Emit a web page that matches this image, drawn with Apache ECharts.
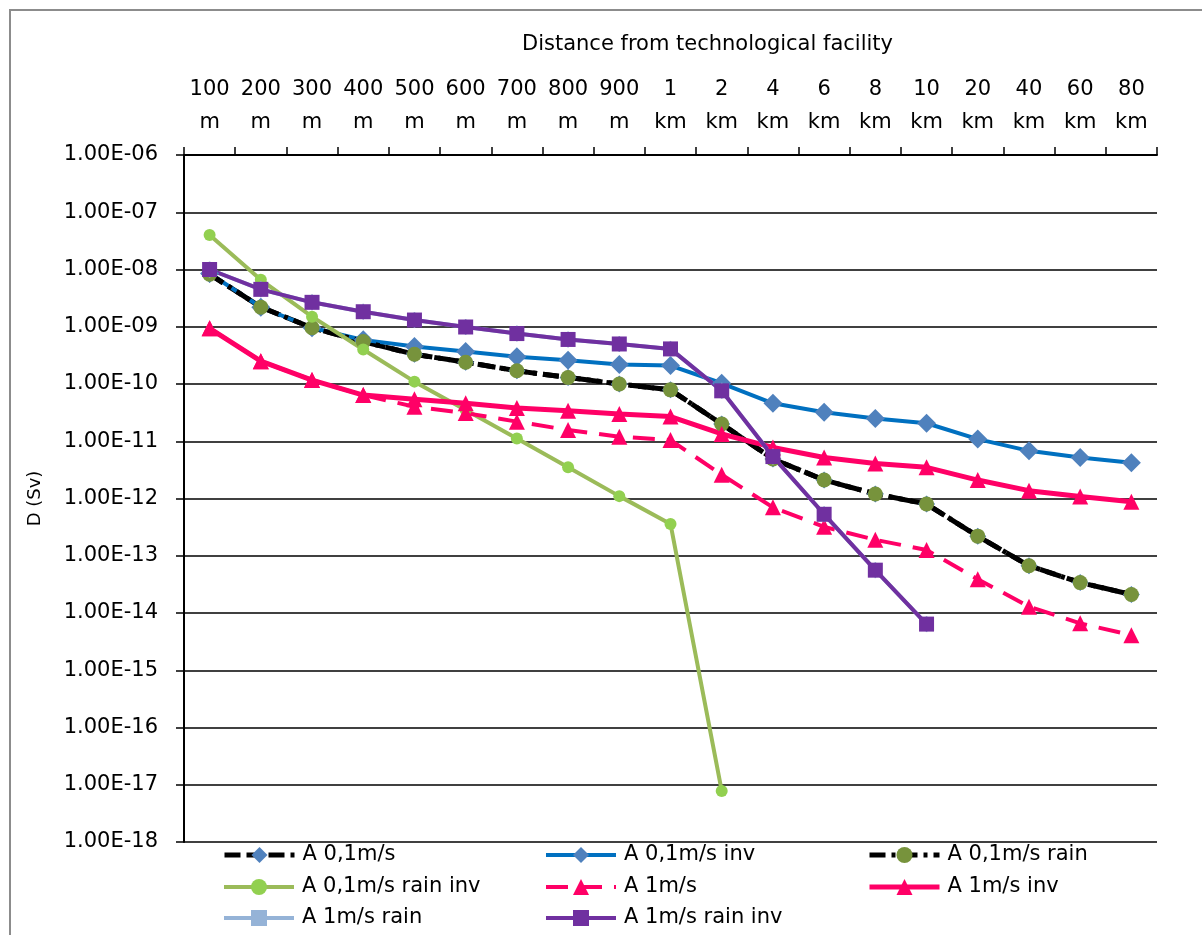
<!DOCTYPE html>
<html>
<head>
<meta charset="utf-8">
<script src="https://cdn.jsdelivr.net/npm/echarts@6/dist/echarts.min.js"></script>
<style>
  html, body { margin: 0; padding: 0; background: #ffffff; }
  #chart { width: 1202px; height: 935px; }
</style>
</head>
<body>
<div id="chart"></div>
<script>
// Distance categories (top axis), two-line labels
const categories = ['100\nm', '200\nm', '300\nm', '400\nm', '500\nm', '600\nm', '700\nm', '800\nm', '900\nm',
  '1\nkm', '2\nkm', '4\nkm', '6\nkm', '8\nkm', '10\nkm', '20\nkm', '40\nkm', '60\nkm', '80\nkm'];

// Dose D (Sv) per distance for each scenario
const a01 = [8.3e-9, 2.2e-9, 9.6e-10, 5.5e-10, 3.3e-10, 2.4e-10, 1.7e-10, 1.3e-10, 1.0e-10, 7.9e-11,
  2.0e-11, 4.9e-12, 2.1e-12, 1.2e-12, 8.0e-13, 2.2e-13, 6.7e-14, 3.4e-14, 2.1e-14];
const a01Inv = [8.5e-9, 2.2e-9, 9.6e-10, 5.9e-10, 4.5e-10, 3.7e-10, 3.0e-10, 2.6e-10, 2.2e-10, 2.1e-10,
  1.03e-10, 4.6e-11, 3.2e-11, 2.5e-11, 2.06e-11, 1.09e-11, 6.8e-12, 5.2e-12, 4.2e-12];
const a01Rain = [8.3e-9, 2.2e-9, 9.6e-10, 5.5e-10, 3.3e-10, 2.4e-10, 1.7e-10, 1.3e-10, 1.0e-10, 7.9e-11,
  2.0e-11, 4.9e-12, 2.1e-12, 1.2e-12, 8.0e-13, 2.2e-13, 6.7e-14, 3.4e-14, 2.1e-14];
const a01RainInv = [4.0e-8, 6.6e-9, 1.5e-9, 4.0e-10, 1.1e-10, 3.5e-11, 1.12e-11, 3.5e-12, 1.1e-12, 3.6e-13,
  7.8e-18, null, null, null, null, null, null, null, null];
const a1 = [9.4e-10, 2.5e-10, 1.17e-10, 6.4e-11, 4.0e-11, 3.1e-11, 2.2e-11, 1.57e-11, 1.2e-11, 1.05e-11,
  2.6e-12, 7.0e-13, 3.2e-13, 1.9e-13, 1.26e-13, 3.9e-14, 1.29e-14, 6.6e-15, 4.1e-15];
const a1Inv = [9.4e-10, 2.5e-10, 1.17e-10, 6.4e-11, 5.4e-11, 4.6e-11, 3.8e-11, 3.4e-11, 3.0e-11, 2.7e-11,
  1.34e-11, 7.8e-12, 5.2e-12, 4.1e-12, 3.5e-12, 2.1e-12, 1.37e-12, 1.08e-12, 8.8e-13];
const a1Rain = [1.0e-8, 4.5e-9, 2.67e-9, 1.83e-9, 1.31e-9, 9.9e-10, 7.6e-10, 6.0e-10, 5.0e-10, 4.1e-10,
  7.6e-11, 5.4e-12, 5.3e-13, 5.6e-14, 6.4e-15, null, null, null, null];
const a1RainInv = [1.0e-8, 4.5e-9, 2.67e-9, 1.83e-9, 1.31e-9, 9.9e-10, 7.6e-10, 6.0e-10, 5.0e-10, 4.1e-10,
  7.6e-11, 5.4e-12, 5.3e-13, 5.6e-14, 6.4e-15, null, null, null, null];

const seriesNames = ['A 0,1m/s', 'A 0,1m/s inv', 'A 0,1m/s rain', 'A 0,1m/s rain inv',
  'A 1m/s', 'A 1m/s inv', 'A 1m/s rain', 'A 1m/s rain inv'];

// Decade range of the dose axis (exponents of 10)
const yMinExp = -18;
const yMaxExp = -6;

const FONT = '"DejaVu Sans", "Open Sans", sans-serif';

// Format a log-axis value as 1.00E-06
function sci(v) {
  const e = Math.round(Math.log10(v));
  const m = v / Math.pow(10, e);
  const sign = e < 0 ? '-' : '+';
  const abs = Math.abs(e);
  return m.toFixed(2) + 'E' + sign + (abs < 10 ? '0' + abs : '' + abs);
}

function lineSeries(name, data, opts) {
  return Object.assign({
    name: name,
    type: 'line',
    data: data,
    connectNulls: false,
    showAllSymbol: true,
    animation: false
  }, opts);
}

const series = [
  lineSeries(seriesNames[0], a01, {
    symbol: 'diamond', symbolSize: 17,
    itemStyle: { color: '#4f81bd' },
    lineStyle: { color: '#000000', width: 5, type: [16, 6] }
  }),
  lineSeries(seriesNames[1], a01Inv, {
    symbol: 'diamond', symbolSize: 19,
    itemStyle: { color: '#4f81bd' },
    lineStyle: { color: '#0070c0', width: 4 }
  }),
  lineSeries(seriesNames[2], a01Rain, {
    symbol: 'circle', symbolSize: 15,
    itemStyle: { color: '#77933c' },
    lineStyle: { color: '#000000', width: 5, type: [16, 6, 4, 6] }
  }),
  lineSeries(seriesNames[3], a01RainInv, {
    symbol: 'circle', symbolSize: 12,
    itemStyle: { color: '#92d050' },
    lineStyle: { color: '#9bbb59', width: 4 }
  }),
  lineSeries(seriesNames[4], a1, {
    symbol: 'triangle', symbolSize: 16,
    itemStyle: { color: '#ff0066' },
    lineStyle: { color: '#ff0066', width: 4, type: [22, 12] }
  }),
  lineSeries(seriesNames[5], a1Inv, {
    symbol: 'triangle', symbolSize: 16,
    itemStyle: { color: '#ff0066' },
    lineStyle: { color: '#ff0066', width: 5 }
  }),
  lineSeries(seriesNames[6], a1Rain, {
    symbol: 'path://M0,0h1v10h-1z', symbolSize: 16, symbolKeepAspect: true,
    itemStyle: { color: '#95b3d7' },
    lineStyle: { color: '#95b3d7', width: 4 }
  }),
  lineSeries(seriesNames[7], a1RainInv, {
    symbol: 'rect', symbolSize: 15,
    itemStyle: { color: '#7030a0' },
    lineStyle: { color: '#7030a0', width: 4 }
  })
];

// Legend: three columns, three rows, each entry placed in its own slot
const legendCols = [222, 544, 867];
const legendRows = [855, 887, 918];
const legends = seriesNames.map(function (name, i) {
  return {
    data: [name],
    left: legendCols[i % 3],
    top: legendRows[Math.floor(i / 3)] - 11,
    itemWidth: 70,
    itemHeight: 20,
    padding: 0,
    selectedMode: false,
    lineStyle: { width: 'inherit' },
    textStyle: { fontFamily: FONT, fontSize: 21, color: '#000000', lineHeight: 22, padding: [0, 0, 0, 3] }
  };
});

const chart = echarts.init(document.getElementById('chart'), null, { renderer: 'canvas' });
chart.setOption({
  backgroundColor: '#ffffff',
  animation: false,
  title: {
    text: 'Distance from technological facility',
    left: 517,
    top: 27,
    textStyle: { fontFamily: FONT, fontSize: 21, fontWeight: 'normal', color: '#000000', lineHeight: 26 }
  },
  graphic: [{
    type: 'rect',
    shape: { x: 10, y: 10, width: 1220, height: 950 },
    style: { fill: 'none', stroke: '#8c8c8c', lineWidth: 2 },
    silent: true
  }],
  legend: legends,
  grid: { left: 184, right: 45, top: 155, bottom: 93 },
  xAxis: {
    type: 'category',
    position: 'top',
    data: categories,
    boundaryGap: true,
    axisLine: { lineStyle: { color: '#000000', width: 2 } },
    axisTick: { show: true, inside: false, length: 8, interval: 0, lineStyle: { color: '#000000', width: 1.5 } },
    axisLabel: { interval: 0, margin: 16, fontFamily: FONT, fontSize: 21, color: '#000000', lineHeight: 33 },
    splitLine: { show: false }
  },
  yAxis: {
    type: 'log',
    logBase: 10,
    min: Math.pow(10, yMinExp),
    max: Math.pow(10, yMaxExp),
    interval: 1,
    name: 'D (Sv)',
    nameLocation: 'middle',
    nameRotate: 90,
    nameGap: 140,
    nameTextStyle: { fontFamily: FONT, fontSize: 18, color: '#000000' },
    axisLine: { show: true, lineStyle: { color: '#000000', width: 2 } },
    axisTick: { show: true, inside: false, length: 8, lineStyle: { color: '#000000', width: 1.5 } },
    axisLabel: { margin: 26, fontFamily: FONT, fontSize: 21, color: '#000000', formatter: sci, showMinLabel: true, showMaxLabel: true },
    splitLine: { show: true, lineStyle: { color: '#000000', width: 1.5 } }
  },
  series: series
});
</script>
</body>
</html>
